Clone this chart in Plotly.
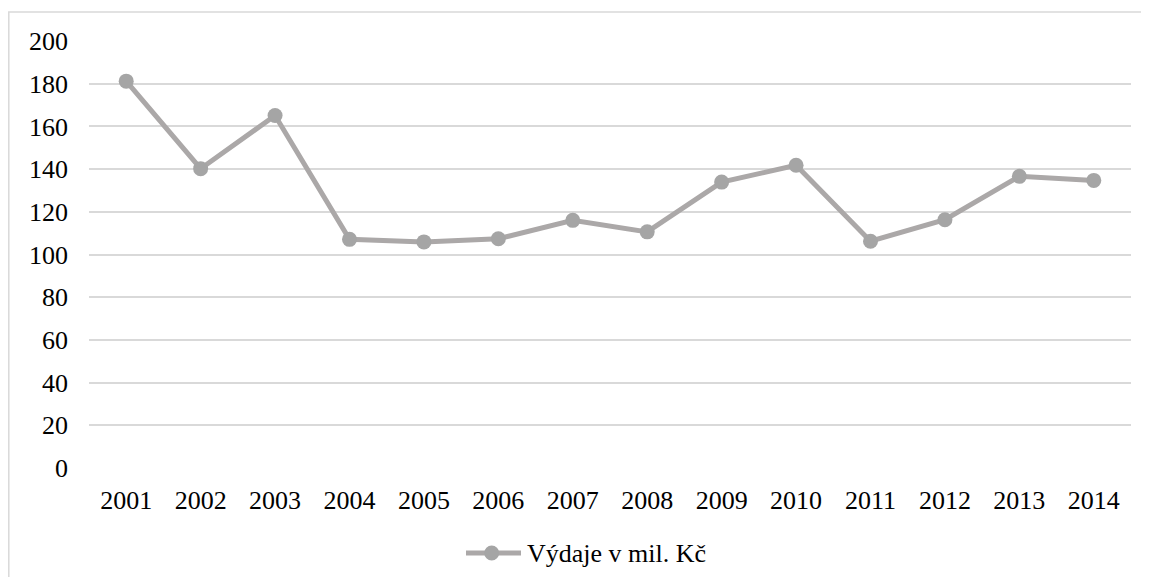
import plotly.graph_objects as go

years = ["2001", "2002", "2003", "2004", "2005", "2006", "2007",
         "2008", "2009", "2010", "2011", "2012", "2013", "2014"]
vydaje = [181.2, 140.2, 165.1, 107.1, 105.9, 107.4, 116.0,
          110.6, 133.9, 141.8, 106.2, 116.3, 136.6, 134.7]
series_name = "Výdaje v mil. Kč"
y_ticks = [0, 20, 40, 60, 80, 100, 120, 140, 160, 180, 200]

FONT = "Liberation Serif, Times New Roman, serif"
FS = 26
LINE_C = "#aba8a8"
MARK_C = "#a5a5a5"

# page body has an 8px default margin; size the figure so it fits the window
W, H = 1149 - 16, 585 - 16
L, T = 81, 33
PW, PH = 1042, 427
R, B = W - L - PW, H - T - PH


def px(xf):
    return (xf - L) / PW


def py(yf):
    return (T + PH - yf) / PH


fig = go.Figure()
fig.add_trace(go.Scatter(
    x=years, y=vydaje, name=series_name, mode="lines+markers",
    line=dict(color=LINE_C, width=5),
    marker=dict(color=MARK_C, size=15),
    showlegend=False,
))

# outer chart border (chart area)
fig.add_shape(type="rect", xref="paper", yref="paper",
              x0=px(0.8), x1=px(W + 20), y0=py(H + 20), y1=py(4),
              line=dict(color="#d9d9d9", width=1.5), fillcolor="rgba(0,0,0,0)",
              layer="below")

# legend (custom, to match the long line symbol)
leg_y = 545
fig.add_shape(type="line", xref="paper", yref="paper",
              x0=px(458), x1=px(513), y0=py(leg_y), y1=py(leg_y),
              line=dict(color=LINE_C, width=5))
fig.add_shape(type="circle", xref="paper", yref="paper",
              x0=px(483.7 - 7.5), x1=px(483.7 + 7.5),
              y0=py(leg_y + 7.5), y1=py(leg_y - 7.5),
              line=dict(width=0), fillcolor=MARK_C)
fig.add_annotation(xref="paper", yref="paper", x=px(517), y=py(leg_y),
                   xanchor="left", yanchor="middle", showarrow=False,
                   text=series_name,
                   font=dict(family=FONT, size=FS, color="black"))

fig.update_layout(
    width=W, height=H,
    margin=dict(l=L, r=R, t=T, b=B, autoexpand=False),
    paper_bgcolor="white", plot_bgcolor="white",
    font=dict(family=FONT, size=FS, color="black"),
    showlegend=False,
    xaxis=dict(type="category", range=[-0.5, 13.5], showgrid=False,
               showline=False, zeroline=False, ticks="",
               ticklabelstandoff=14,
               tickfont=dict(family=FONT, size=FS, color="black")),
    yaxis=dict(range=[0, 200], tickvals=y_ticks, showgrid=True,
               gridcolor="#d9d9d9", gridwidth=1.5, zeroline=False,
               showline=False, ticks="", ticklabelstandoff=20,
               tickfont=dict(family=FONT, size=FS, color="black")),
)

fig.write_html("out.html")
